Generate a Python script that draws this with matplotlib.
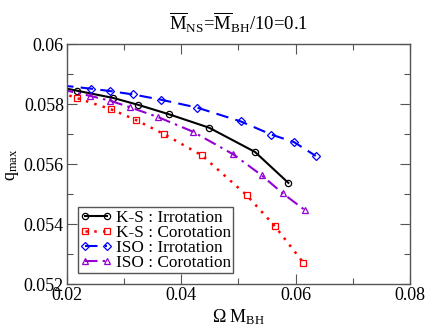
import matplotlib
matplotlib.use("Agg")
import matplotlib.pyplot as plt
from matplotlib.ticker import MultipleLocator

plt.rcParams['font.family'] = ['Liberation Serif', 'DejaVu Serif']
plt.rcParams['mathtext.fontset'] = 'custom'
plt.rcParams['mathtext.rm'] = 'Liberation Serif'
plt.rcParams['mathtext.it'] = 'Liberation Serif:italic'

# data
ks_irr_x = [0.0190, 0.02185, 0.02815, 0.03252, 0.03783, 0.04488, 0.05292, 0.05874]
ks_irr_y = [0.05856, 0.05845, 0.05821, 0.05798, 0.05767, 0.05722, 0.05641, 0.05538]

ks_cor_x = [0.0190, 0.02175, 0.02780, 0.03206, 0.03706, 0.04360, 0.05146, 0.05641, 0.06136]
ks_cor_y = [0.05838, 0.05821, 0.05783, 0.05748, 0.05700, 0.05630, 0.05497, 0.05393, 0.05272]

iso_irr_x = [0.0190, 0.02425, 0.02757, 0.03154, 0.03654, 0.04278, 0.05041, 0.05577, 0.05973, 0.06352]
iso_irr_y = [0.05863, 0.05852, 0.05844, 0.05833, 0.05815, 0.05789, 0.05743, 0.05699, 0.05674, 0.05628]

iso_cor_x = [0.0190, 0.02408, 0.02757, 0.03107, 0.03601, 0.04202, 0.04912, 0.05409, 0.05776, 0.06166]
iso_cor_y = [0.05850, 0.05828, 0.05812, 0.05790, 0.05757, 0.05709, 0.05633, 0.05563, 0.05503, 0.05447]

labels = ['K-S : Irrotation', 'K-S : Corotation', 'ISO : Irrotation', 'ISO : Corotation']
xticks = [0.02, 0.04, 0.06, 0.08]
yticks = [0.052, 0.054, 0.056, 0.058, 0.06]

fig = plt.figure(figsize=(4.27, 3.27), dpi=100)
ax = fig.add_axes([0.1562, 0.1306, 0.804, 0.734])

ms = 4.5
ax.plot(ks_irr_x, ks_irr_y, color='black', ls='-', lw=1.5, marker='o',
        mfc='none', ms=ms, mew=0.9, label=labels[0])
ax.plot(ks_cor_x, ks_cor_y, color='#ff0000', ls=(0, (1, 2.5)), lw=1.8, marker='s',
        mfc='none', ms=ms, mew=0.9, label=labels[1])
ax.plot(iso_irr_x, iso_irr_y, color='#0000ff', ls=(0, (6, 3.5)), lw=1.5, marker='D',
        mfc='none', ms=3.6, mew=0.9, label=labels[2])
ax.plot(iso_cor_x, iso_cor_y, color='#9400d3', ls=(0, (6, 2.5, 1.2, 2.5)), lw=1.5, marker='^',
        mfc='none', ms=ms, mew=0.9, label=labels[3])

ax.set_xlim(0.02, 0.08)
ax.set_ylim(0.052, 0.06)
ax.xaxis.set_minor_locator(MultipleLocator(0.01))
ax.yaxis.set_minor_locator(MultipleLocator(0.001))
ax.set_xticks(xticks)
ax.set_xticklabels(['%g' % v for v in xticks], fontsize=13)
ax.set_yticks(yticks)
ax.set_yticklabels(['%g' % v for v in yticks], fontsize=13)
ax.tick_params(which='both', direction='in', top=True, right=True, color='#555555')
ax.tick_params(which='major', length=7, width=0.8, pad=2)
ax.tick_params(which='minor', length=4, width=0.8)
for s in ax.spines.values():
    s.set_color('#555555')
    s.set_linewidth(1.0)

ax.set_xlabel(r'$\Omega\ \mathrm{M}_{\mathrm{BH}}$', fontsize=13, labelpad=2)
ax.set_ylabel(r'$\mathrm{q}_{\mathrm{max}}$', fontsize=13, labelpad=2)
ax.set_title(r'$\overline{\mathrm{M}}_{\mathrm{NS}}$=$\overline{\mathrm{M}}_{\mathrm{BH}}$/10=0.1',
             fontsize=13.5, pad=10)

leg = ax.legend(loc='lower left', bbox_to_anchor=(0.032, 0.046), fontsize=12.4,
                numpoints=2, handlelength=1.9, handletextpad=0.2, labelspacing=-0.05,
                borderpad=0.12, borderaxespad=0, fancybox=False, framealpha=1,
                edgecolor='#555555')
leg.get_frame().set_linewidth(1.0)

fig.savefig('out.png', dpi=100)
